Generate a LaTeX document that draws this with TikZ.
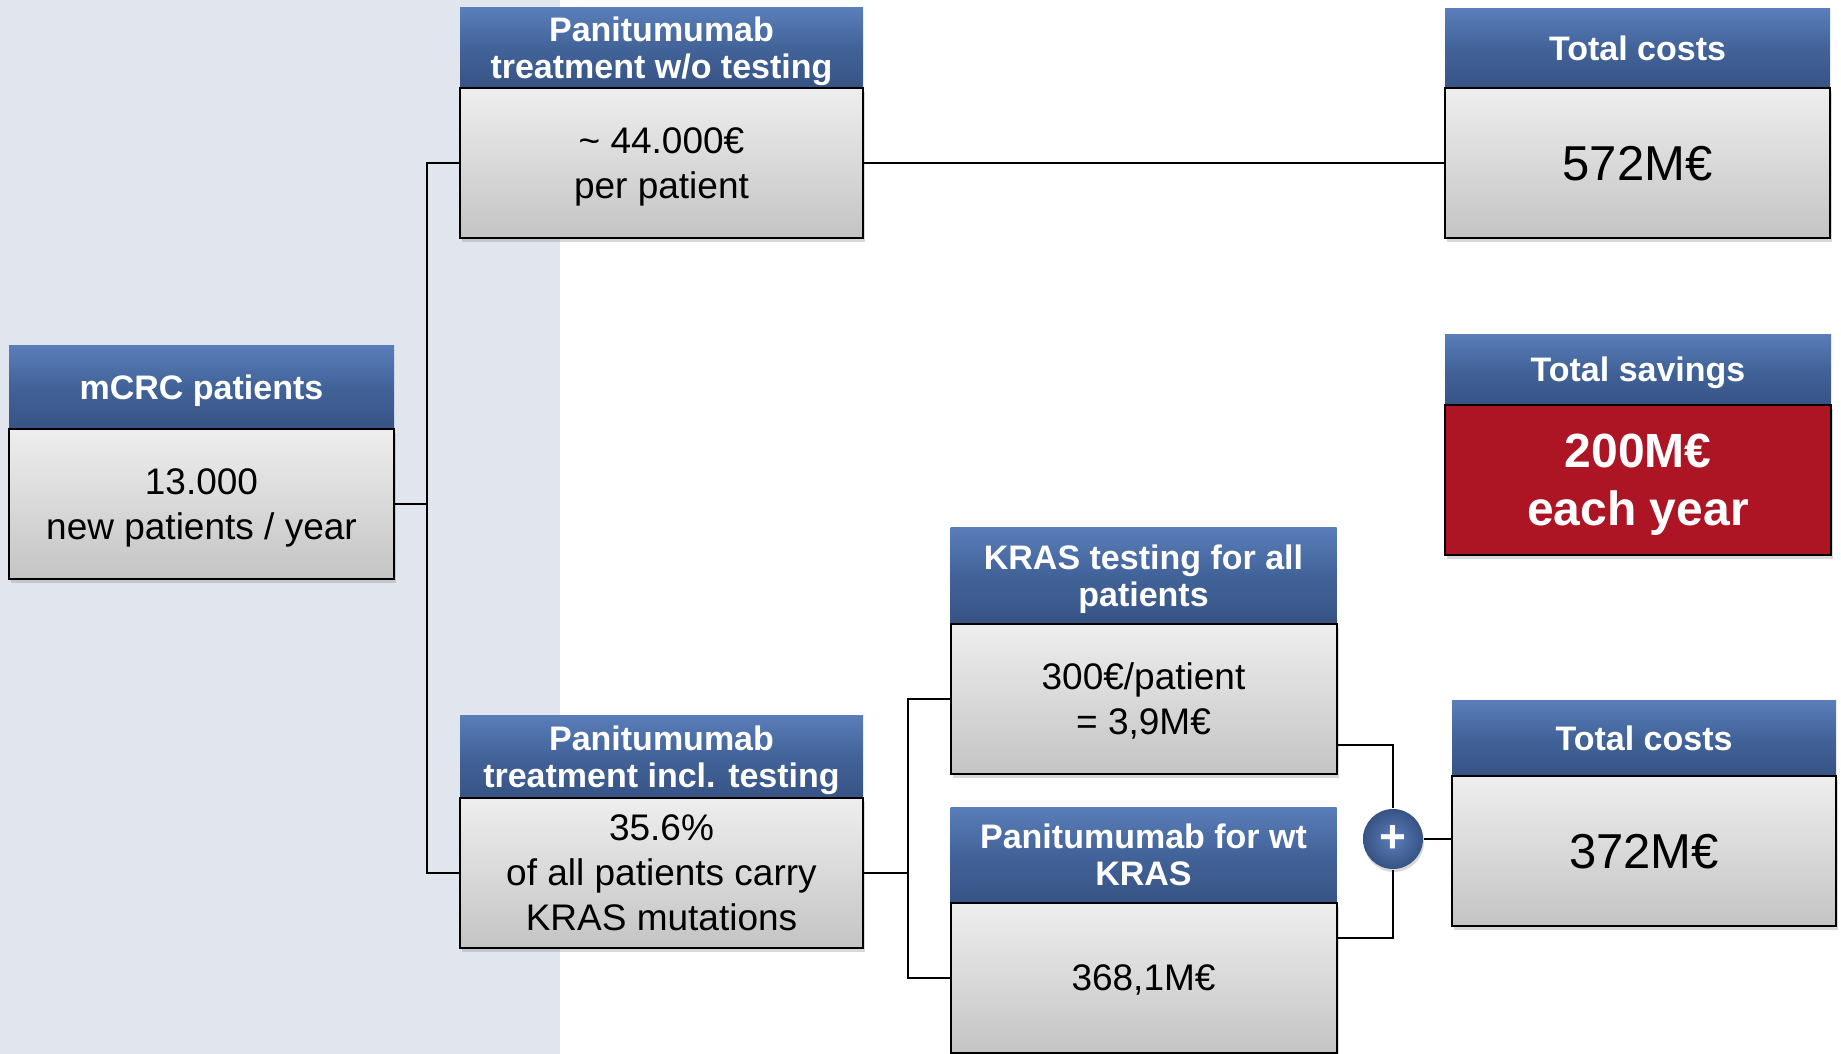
\documentclass[tikz,border=0pt]{standalone}
\usepackage{fontspec}
\setmainfont{Liberation Sans}
\usepackage{tikz}
\usetikzlibrary{positioning, shadows}

\definecolor{PanelGray}{RGB}{224,229,238}
\definecolor{HeadLight}{RGB}{90,126,186}
\definecolor{HeadMid}{RGB}{66,99,153}
\definecolor{HeadDark}{RGB}{55,83,132}
\definecolor{BodyTop}{RGB}{238,238,238}
\definecolor{BodyBottom}{RGB}{196,196,196}
\definecolor{SavingsRed}{RGB}{173,20,36}

\begin{document}
\begin{tikzpicture}[x=1pt, y=-1pt, line width=2pt,
    boxhead/.style={rectangle, outer sep=0pt, inner sep=2pt, align=center, text=white,
        top color=HeadLight, bottom color=HeadDark, middle color=HeadMid, text depth=0pt,
        font=\fontsize{34}{37}\selectfont\bfseries},
    boxframe/.style={rectangle, draw, outer sep=0pt, inner sep=2pt, align=center,
        minimum height=150pt, text depth=0pt,
        drop shadow={opacity=0.3, shadow xshift=2pt, shadow yshift=-4pt}},
    boxbody/.style={boxframe, top color=BodyTop, bottom color=BodyBottom,
        font=\fontsize{37}{45}\selectfont},
    savebody/.style={boxframe, fill=SavingsRed, text=white,
        font=\fontsize{48}{58}\selectfont\bfseries}]
    \useasboundingbox (0,0) rectangle (1841,1054);
    \fill[PanelGray] (0,0) rectangle (560,1054);

    % Nodes
    \node (PatientsHead) [boxhead, minimum width=385pt, minimum height=84pt] at (201.5,387) {mCRC patients};
    \node (Patients) [boxbody, minimum width=385pt, below=0pt of PatientsHead] {13.000\\new patients / year};

    \node (NoTestingHead) [boxhead, minimum width=403pt, minimum height=80pt] at (661.5,48) {Panitumumab\\treatment w/o testing};
    \node (NoTesting) [boxbody, minimum width=403pt, below=0pt of NoTestingHead] {\textasciitilde{} 44.000€\\per patient};

    \node (WithTestingHead) [boxhead, minimum width=403pt, minimum height=83pt] at (661.5,756.5) {Panitumumab\\treatment incl. testing};
    \node (WithTesting) [boxbody, minimum width=403pt, below=0pt of WithTestingHead] {35.6\%\\of all patients carry\\KRAS mutations};

    \node (TestingHead) [boxhead, minimum width=386pt, minimum height=97pt] at (1143.5,575.5) {KRAS testing for all\\patients};
    \node (Testing) [boxbody, minimum width=386pt, below=0pt of TestingHead] {300€/patient\\= 3,9M€};

    \node (WildTypeHead) [boxhead, minimum width=386pt, minimum height=96pt] at (1143.5,855) {Panitumumab for wt\\KRAS};
    \node (WildType) [boxbody, minimum width=386pt, below=0pt of WildTypeHead] {368,1M€};

    \node (CostsAHead) [boxhead, minimum width=385pt, minimum height=79pt] at (1637.5,48.5) {Total costs};
    \node (CostsA) [boxbody, minimum width=385pt, below=0pt of CostsAHead, font=\fontsize{49}{56}\selectfont] {572M€};

    \node (SavingsHead) [boxhead, minimum width=386pt, minimum height=71pt] at (1638,369.5) {Total savings};
    \node (Savings) [savebody, minimum width=386pt, below=0pt of SavingsHead] {200M€\\each year};

    \node (CostsBHead) [boxhead, minimum width=384pt, minimum height=76pt] at (1644,738) {Total costs};
    \node (CostsB) [boxbody, minimum width=384pt, below=0pt of CostsBHead, font=\fontsize{49}{56}\selectfont] {372M€};

    \node (Plus) [circle, minimum size=60pt, inner sep=0pt, inner color=HeadLight, outer color=HeadDark,
        text=white, font=\fontsize{46}{46}\selectfont\bfseries,
        drop shadow={opacity=0.3, shadow xshift=1pt, shadow yshift=-3pt}] at (1393,839) {+};

    % Edges
    \draw (Patients.east) -- ++(33,0) coordinate (SplitA);
    \draw (NoTesting.west) -| (SplitA) |- (WithTesting.west);
    \draw (NoTesting.east) -- (CostsA.west);
    \draw (WithTesting.east) -- ++(45,0) coordinate (SplitB);
    \draw (Testing.west) -| (SplitB) |- (WildType.west);
    \draw ([yshift=-46pt]Testing.east) -| (Plus.north);
    \draw ([yshift=40pt]WildType.east) -| (Plus.south);
    \draw (Plus.east) -- (Plus.east -| CostsB.west);
\end{tikzpicture}
\end{document}
